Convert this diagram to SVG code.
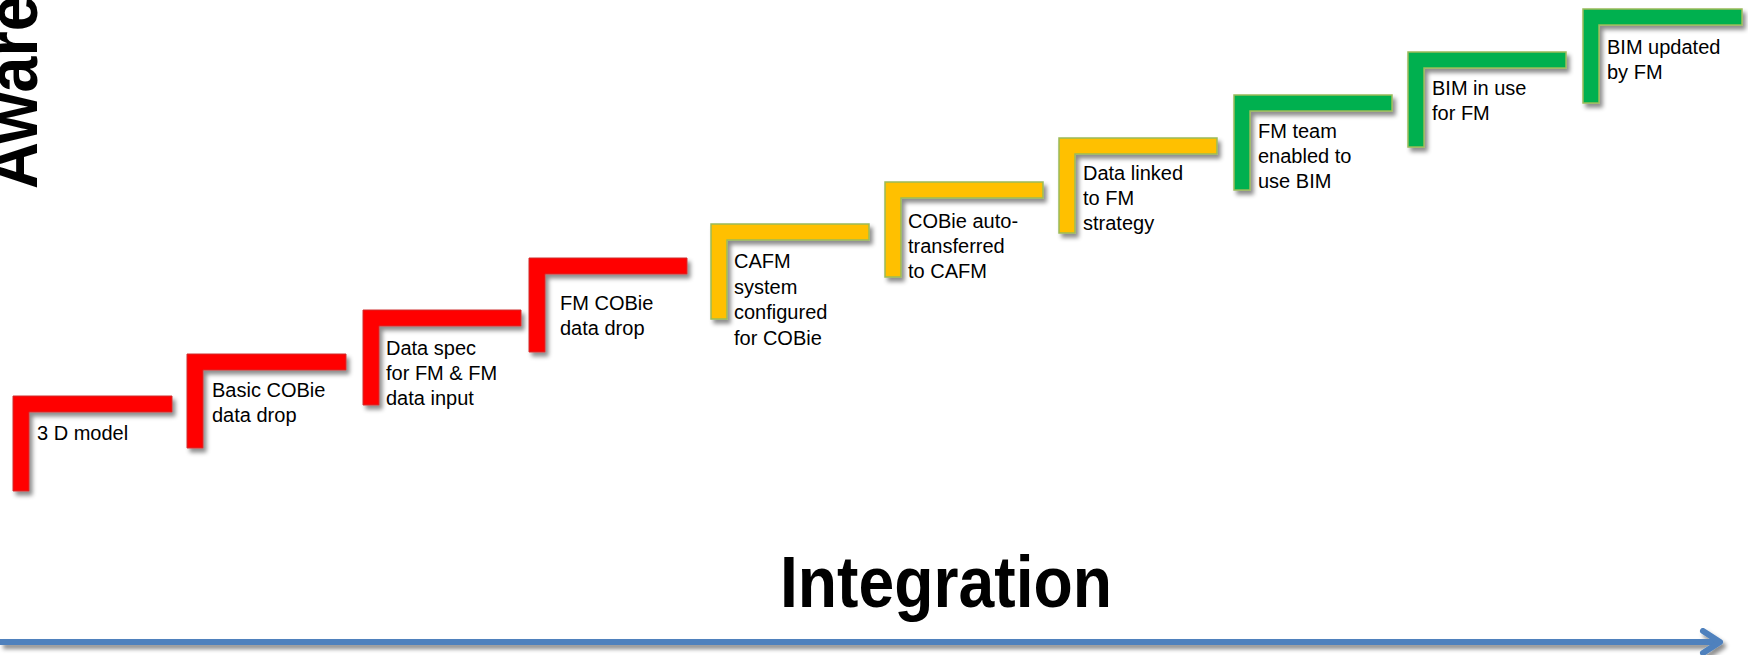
<svg xmlns="http://www.w3.org/2000/svg" width="1748" height="655" viewBox="0 0 1748 655">
<defs>
<filter id="sh" x="-10%" y="-10%" width="130%" height="130%">
<feDropShadow dx="3" dy="4" stdDeviation="2" flood-color="#000" flood-opacity="0.45"/>
</filter>
</defs>
<style>
.red{fill:#FF0000;stroke:#D03030;stroke-width:1}
.yel{fill:#FFC000;stroke:#9BBB59;stroke-width:1.5}
.grn{fill:#00B050;stroke:#9BBB59;stroke-width:1.5}
.step path{filter:url(#sh)}
.lbl{font-family:"Liberation Sans",Arial,sans-serif;font-size:20px;fill:#000}
.big{font-family:"Liberation Sans",Arial,sans-serif;font-weight:bold;font-size:72px;fill:#000}
</style>
<rect width="1748" height="655" fill="#fff"/>
<g id="axis-y"><text class="big" transform="translate(37,189) rotate(-90)" textLength="194" lengthAdjust="spacingAndGlyphs">Aware</text></g>
<g id="step1" class="step"><path class="red" d="M13,396H172V412H29V491H13Z"/><text class="lbl" x="37" y="440">3 D model</text></g>
<g id="step2" class="step"><path class="red" d="M187,354H346V370H203V448H187Z"/><text class="lbl" x="212" y="397">Basic COBie<tspan x="212" dy="25">data drop</tspan></text></g>
<g id="step3" class="step"><path class="red" d="M363,310H521V326H379V405H363Z"/><text class="lbl" x="386" y="355">Data spec<tspan x="386" dy="25">for FM &amp; FM</tspan><tspan x="386" dy="25">data input</tspan></text></g>
<g id="step4" class="step"><path class="red" d="M529,258H687V274H545V352H529Z"/><text class="lbl" x="560" y="310">FM COBie<tspan x="560" dy="25">data drop</tspan></text></g>
<g id="step5" class="step"><path class="yel" d="M711,224H869V240H727V319H711Z"/><text class="lbl" x="734" y="268">CAFM<tspan x="734" dy="25.5">system</tspan><tspan x="734" dy="25.5">configured</tspan><tspan x="734" dy="25.5">for COBie</tspan></text></g>
<g id="step6" class="step"><path class="yel" d="M885,182H1043V198H901V277H885Z"/><text class="lbl" x="908" y="228">COBie auto-<tspan x="908" dy="25">transferred</tspan><tspan x="908" dy="25">to CAFM</tspan></text></g>
<g id="step7" class="step"><path class="yel" d="M1059,138H1217V154H1075V233H1059Z"/><text class="lbl" x="1083" y="180">Data linked<tspan x="1083" dy="25">to FM</tspan><tspan x="1083" dy="25">strategy</tspan></text></g>
<g id="step8" class="step"><path class="grn" d="M1234,95H1392V111H1250V190H1234Z"/><text class="lbl" x="1258" y="138">FM team<tspan x="1258" dy="25">enabled to</tspan><tspan x="1258" dy="25">use BIM</tspan></text></g>
<g id="step9" class="step"><path class="grn" d="M1408,52H1566V68H1424V147H1408Z"/><text class="lbl" x="1432" y="95">BIM in use<tspan x="1432" dy="25">for FM</tspan></text></g>
<g id="step10" class="step"><path class="grn" d="M1583,9H1742V25H1599V103H1583Z"/><text class="lbl" x="1607" y="54">BIM updated<tspan x="1607" dy="25">by FM</tspan></text></g>
<g id="axis-x"><text class="big" x="780" y="607" textLength="332" lengthAdjust="spacingAndGlyphs">Integration</text></g>
<g id="connectors" filter="url(#sh)">
<path d="M0,642H1718" fill="none" stroke="#4F81BD" stroke-width="6"/>
<path d="M1703,631L1720,642L1703,653" fill="none" stroke="#4F81BD" stroke-width="6" stroke-linecap="round" stroke-linejoin="round"/>
</g>
</svg>
